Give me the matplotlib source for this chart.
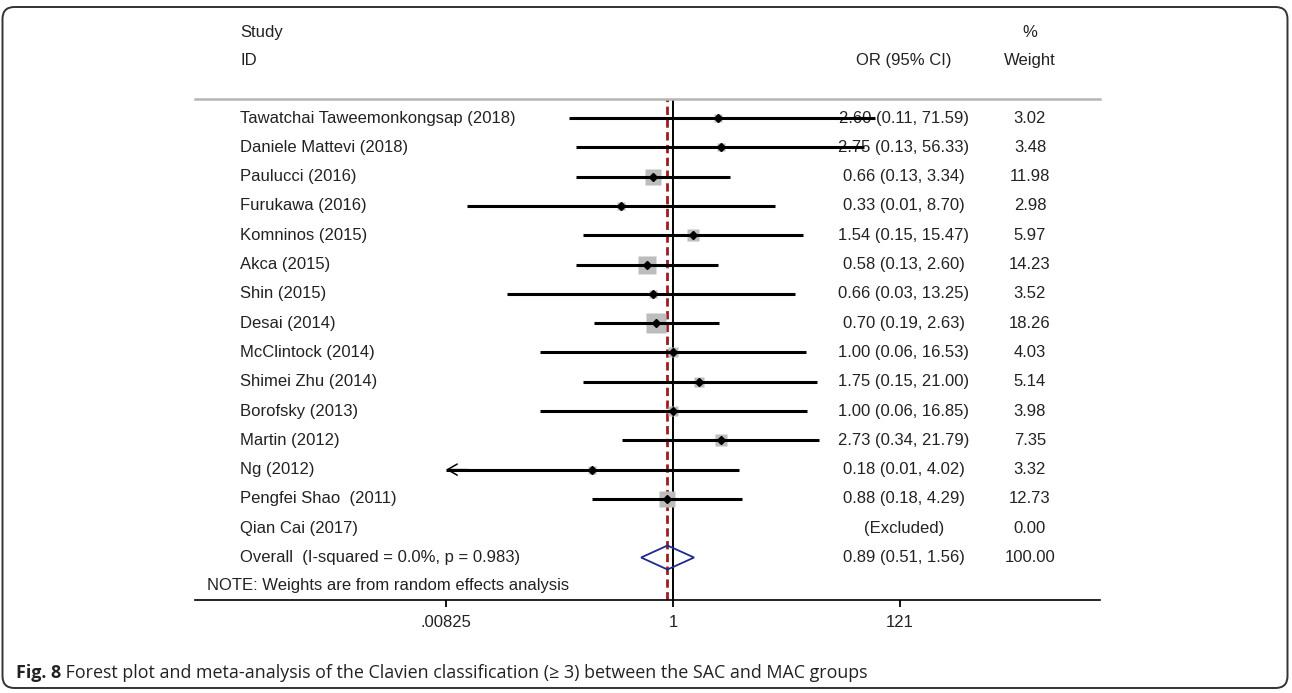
import matplotlib.pyplot as plt
from matplotlib.patches import FancyBboxPatch, Polygon
from matplotlib.transforms import IdentityTransform, blended_transform_factory

plt.rcParams['font.family'] = ['Liberation Sans', 'DejaVu Sans']

# study data (OR with 95% CI, random-effects weight in %)
studies = ['Tawatchai Taweemonkongsap (2018)', 'Daniele Mattevi (2018)', 'Paulucci (2016)',
           'Furukawa (2016)', 'Komninos (2015)', 'Akca (2015)', 'Shin (2015)', 'Desai (2014)',
           'McClintock (2014)', 'Shimei Zhu (2014)', 'Borofsky (2013)', 'Martin (2012)',
           'Ng (2012)', 'Pengfei Shao  (2011)', 'Qian Cai (2017)']
odds = [2.60, 2.75, 0.66, 0.33, 1.54, 0.58, 0.66, 0.70, 1.00, 1.75, 1.00, 2.73, 0.18, 0.88, None]
ci_low = [0.11, 0.13, 0.13, 0.013, 0.15, 0.13, 0.03, 0.19, 0.06, 0.15, 0.06, 0.34, 0.008, 0.18, None]
ci_high = [71.59, 56.33, 3.34, 8.70, 15.47, 2.60, 13.25, 2.63, 16.53, 21.00, 16.85, 21.79, 4.02, 4.29, None]
weights = [3.02, 3.48, 11.98, 2.98, 5.97, 14.23, 3.52, 18.26, 4.03, 5.14, 3.98, 7.35, 3.32, 12.73, 0.00]

overall_label = 'Overall  (I-squared = 0.0%, p = 0.983)'
overall_or, overall_lo, overall_hi = 0.89, 0.51, 1.56
overall_weight = 100.00

tick_vals = [1 / 121, 1, 121]
tick_labels = ['.00825', '1', '121']

W, H = 1292, 693
fig = plt.figure(figsize=(W / 100, H / 100), dpi=100)

# rounded frame around the whole figure
fig.add_artist(FancyBboxPatch((2.5, 5), 1285, 681, boxstyle='round,pad=0,rounding_size=12',
                              transform=IdentityTransform(), fill=False, lw=1.4, ec='#333333'))

ax = fig.add_axes([195 / W, (H - 600) / H, 905 / W, (600 - 99) / H])
ax.set_xscale('log')
ax.set_xlim(10 ** ((195 - 673) / 109), 10 ** ((1100 - 673) / 109))
ax.set_ylim(16.45, -0.65)

txt = '#222222'
fs = 12
tr = blended_transform_factory(ax.transAxes, ax.transData)
x_study, x_or, x_wt = (240 - 195) / 905, (904 - 195) / 905, (1030 - 195) / 905

# reference lines
ax.axvline(1, color='black', lw=1.4, zorder=2)
ax.axvline(overall_or, color='#a01c1c', lw=2, ls=(0, (3, 1.6)), zorder=2)

lo_clip = tick_vals[0]
for i, name in enumerate(studies):
    ax.text(x_study, i, name, transform=tr, ha='left', va='center', fontsize=fs, color=txt)
    ax.text(x_wt, i, f'{weights[i]:.2f}', transform=tr, ha='center', va='center', fontsize=fs, color=txt)
    if odds[i] is None:
        ax.text(x_or, i, '(Excluded)', transform=tr, ha='center', va='center', fontsize=fs, color=txt)
        continue
    ax.text(x_or, i, f'{odds[i]:.2f} ({ci_low[i]:.2f}, {ci_high[i]:.2f})', transform=tr,
            ha='center', va='center', fontsize=fs, color=txt, zorder=1)
    ax.plot(odds[i], i, marker='s', ms=3.3 * weights[i] ** 0.5, color='#bdbdbd', mec='none', zorder=3)
    lo = max(ci_low[i], lo_clip)
    ax.plot([lo, ci_high[i]], [i, i], color='black', lw=2.2, solid_capstyle='butt', zorder=4)
    if ci_low[i] < lo_clip:
        ax.annotate('', xy=(lo, i), xytext=(lo * 1.6, i),
                    arrowprops=dict(arrowstyle='->,head_length=0.7,head_width=0.4', lw=1.1,
                                    color='black', shrinkA=0, shrinkB=0), zorder=4)
    ax.plot(odds[i], i, marker='D', ms=4, color='black', zorder=5)

# pooled estimate
yo = len(studies)
ax.text(x_study, yo, overall_label, transform=tr, ha='left', va='center', fontsize=fs, color=txt)
ax.text(x_or, yo, f'{overall_or:.2f} ({overall_lo:.2f}, {overall_hi:.2f})', transform=tr,
        ha='center', va='center', fontsize=fs, color=txt)
ax.text(x_wt, yo, f'{overall_weight:.2f}', transform=tr, ha='center', va='center', fontsize=fs, color=txt)
ax.add_patch(Polygon([(overall_lo, yo), (overall_or, yo - 0.41), (overall_hi, yo), (overall_or, yo + 0.41)],
                     closed=True, fill=False, ec='#1f2a8c', lw=1.3, zorder=5))

ax.text((207 - 195) / 905, 15.94, 'NOTE: Weights are from random effects analysis', transform=tr,
        ha='left', va='center', fontsize=fs, color=txt)

# column headers
ax.text(x_study, -2.92, 'Study', transform=tr, ha='left', va='center', fontsize=fs, color=txt, clip_on=False)
ax.text(x_study, -1.95, 'ID', transform=tr, ha='left', va='center', fontsize=fs, color=txt, clip_on=False)
ax.text(x_or, -1.95, 'OR (95% CI)', transform=tr, ha='center', va='center', fontsize=fs, color=txt, clip_on=False)
ax.text(x_wt, -2.92, '%', transform=tr, ha='center', va='center', fontsize=fs, color=txt, clip_on=False)
ax.text(x_wt, -1.95, 'Weight', transform=tr, ha='center', va='center', fontsize=fs, color=txt, clip_on=False)

# axes styling
for side in ['left', 'right']:
    ax.spines[side].set_visible(False)
ax.spines['top'].set_color('#b5b5b5')
ax.spines['top'].set_linewidth(1.8)
ax.spines['bottom'].set_linewidth(1.2)
ax.set_yticks([])
ax.minorticks_off()
ax.set_xticks(tick_vals)
ax.set_xticklabels(tick_labels)
ax.tick_params(axis='x', direction='out', length=5, width=1.3, pad=6, labelsize=fs, labelcolor=txt)

# caption
cap_font = ['Open Sans', 'DejaVu Sans']
t1 = fig.text(16 / W, (H - 678) / H, 'Fig. 8', fontweight='bold', family=cap_font, fontsize=12.9,
              va='baseline', color='#222222')
ax.annotate(' Forest plot and meta-analysis of the Clavien classification (\u2265 3) between the SAC and MAC groups',
            xy=(1, 0), xycoords=t1, ha='left', va='bottom', family=cap_font, fontsize=12.9,
            color='#222222', annotation_clip=False)

fig.savefig('out.png', dpi=100)
